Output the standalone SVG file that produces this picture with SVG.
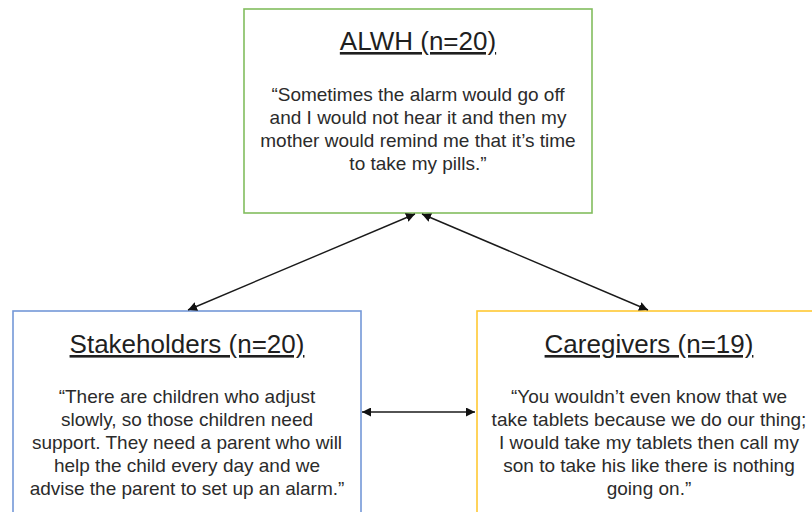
<svg xmlns="http://www.w3.org/2000/svg" width="812" height="512" viewBox="0 0 812 512">
<style>
.box{fill:#fff;stroke-width:1.6}
.title{font-family:"Liberation Sans",Arial,sans-serif;font-size:26px;fill:#1f1f1f;text-anchor:middle;text-decoration:underline;text-decoration-skip-ink:none}
.body{font-family:"Liberation Sans",Arial,sans-serif;font-size:19px;fill:#2b2b2b;text-anchor:middle}
.conn{stroke:#1a1a1a;stroke-width:1.4;fill:none;marker-start:url(#ah);marker-end:url(#ah)}
</style>
<defs>
<marker id="ah" viewBox="0 0 10 10" refX="10" refY="5" markerWidth="9" markerHeight="9" markerUnits="userSpaceOnUse" orient="auto-start-reverse">
<path d="M0,0 L10,5 L0,10 z" fill="#111"/>
</marker>
</defs>
<rect width="812" height="512" fill="#fff"/>
<g id="alwh">
<rect class="box" x="244" y="9" width="348" height="204" stroke="#82BD5E"/>
<text class="title" x="418" y="50">ALWH (n=20)</text>
<text class="body" x="418" y="101">“Sometimes the alarm would go off</text>
<text class="body" x="418" y="124">and I would not hear it and then my</text>
<text class="body" x="418" y="147">mother would remind me that it’s time</text>
<text class="body" x="418" y="170">to take my pills.”</text>
</g>
<g id="stakeholders">
<rect class="box" x="13" y="311" width="348" height="220" stroke="#7498D8"/>
<text class="title" x="187" y="353">Stakeholders (n=20)</text>
<text class="body" x="187" y="403">“There are children who adjust</text>
<text class="body" x="187" y="426">slowly, so those children need</text>
<text class="body" x="187" y="449">support. They need a parent who will</text>
<text class="body" x="187" y="472">help the child every day and we</text>
<text class="body" x="187" y="495">advise the parent to set up an alarm.”</text>
</g>
<g id="caregivers">
<rect class="box" x="477" y="311" width="348" height="220" stroke="#FFC933"/>
<text class="title" x="649" y="353">Caregivers (n=19)</text>
<text class="body" x="649" y="403">“You wouldn’t even know that we</text>
<text class="body" x="649" y="426">take tablets because we do our thing;</text>
<text class="body" x="649" y="449">I would take my tablets then call my</text>
<text class="body" x="649" y="472">son to take his like there is nothing</text>
<text class="body" x="649" y="495">going on.”</text>
</g>
<g id="connectors">
<line class="conn" x1="188" y1="310" x2="415" y2="214"/>
<line class="conn" x1="422" y1="214" x2="648" y2="310"/>
<line class="conn" x1="362" y1="412" x2="475" y2="412"/>
</g>
</svg>
